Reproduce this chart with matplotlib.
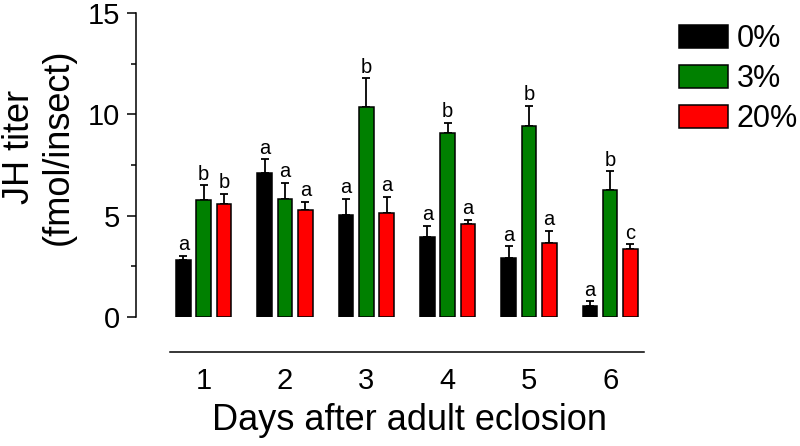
import matplotlib
matplotlib.use("Agg")
import matplotlib.pyplot as plt
import numpy as np

plt.rcParams['font.family'] = ['Liberation Sans', 'DejaVu Sans']

days = ["1", "2", "3", "4", "5", "6"]
series_names = ["0%", "3%", "20%"]
mean_0 = [2.81, 7.09, 5.03, 3.93, 2.93, 0.56]
mean_3 = [5.77, 5.82, 10.38, 9.09, 9.42, 6.27]
mean_20 = [5.57, 5.26, 5.12, 4.60, 3.65, 3.37]
err_0 = [0.21, 0.69, 0.79, 0.57, 0.56, 0.21]
err_3 = [0.73, 0.81, 1.41, 0.50, 0.99, 0.92]
err_20 = [0.51, 0.43, 0.80, 0.20, 0.61, 0.22]
letters_0 = ["a", "a", "a", "a", "a", "a"]
letters_3 = ["b", "a", "b", "b", "b", "b"]
letters_20 = ["b", "a", "a", "a", "a", "c"]

colors = ["#000000", "#008000", "#FF0000"]

fig = plt.figure(figsize=(8, 4.46), dpi=100)
ax = fig.add_axes([136/800, 1-317/446, (650-136)/800, (317-13)/446])

x = np.arange(1, 7)
offset = 0.25
width = 0.18
means = [mean_0, mean_3, mean_20]
errs = [err_0, err_3, err_20]
letters = [letters_0, letters_3, letters_20]

for i, (m, e, lt, c, name) in enumerate(zip(means, errs, letters, colors, series_names)):
    pos = x + (i - 1) * offset
    ax.bar(pos, m, width, color=c, edgecolor="black", linewidth=1.1, label=name, zorder=2)
    ax.errorbar(pos, m, yerr=[np.zeros(6), e], fmt="none", ecolor="black",
                elinewidth=1.3, capsize=3.2, capthick=1.3, zorder=1)
    for p, mv, ev, l in zip(pos, m, e, lt):
        ax.annotate(l, (p, mv + ev), xytext=(0, 4), textcoords="offset points",
                    ha="center", va="baseline", fontsize=14.5)

ax.set_xlim(0.167, 6.49)
ax.set_ylim(0, 15)
ax.set_yticks([0, 5, 10, 15])
ax.set_yticks([2.5, 7.5, 12.5], minor=True)
ax.set_xticks(x)
ax.set_xticklabels(days)

for s in ["top", "right"]:
    ax.spines[s].set_visible(False)
ax.spines["left"].set_linewidth(1.1)
ax.spines["bottom"].set_linewidth(1.1)
ax.spines["bottom"].set_position(("outward", 25))
ax.spines["bottom"].set_bounds(0.585, 6.415)
ax.spines["left"].set_bounds(0, 15)

ax.tick_params(axis="y", which="major", length=6.5, width=1.1, labelsize=21, pad=5)
ax.tick_params(axis="y", which="minor", length=3.3, width=1.1)
ax.tick_params(axis="x", length=0, labelsize=21, pad=11)

ax.set_xlabel("Days after adult eclosion", fontsize=26)
ax.xaxis.set_label_coords((410-136)/514, -(438-317)/304)
ax.xaxis.label.set_va("bottom")
fig.text(39/800, 1-147/446, "JH titer\n(fmol/insect)", rotation=90, ha="center",
         va="center", fontsize=26, linespacing=1.15)

ax.legend(loc="upper left", bbox_to_anchor=(679/800, 1-24/446), bbox_transform=fig.transFigure,
          frameon=False, fontsize=22, handlelength=1.6, handleheight=0.75,
          handletextpad=0.28, labelspacing=0.33, borderpad=0, borderaxespad=0)

fig.savefig("out.png", dpi=100)
